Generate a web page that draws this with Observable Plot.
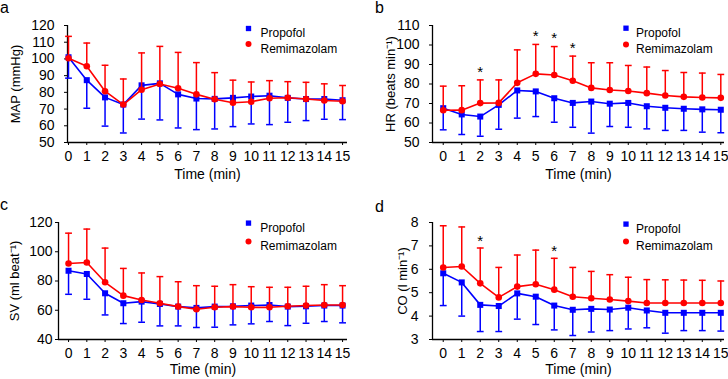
<!DOCTYPE html>
<html>
<head>
<meta charset="utf-8">
<script src="https://cdn.jsdelivr.net/npm/d3@7"></script>
<script src="https://cdn.jsdelivr.net/npm/@observablehq/plot@0.6"></script>
<style>
  html, body { margin: 0; padding: 0; background: #fff; }
  #fig { position: relative; width: 728px; height: 379px; overflow: hidden;
         font-family: "Liberation Sans", Arial, sans-serif; color: #000; }
  .panel { position: absolute; width: 364px; height: 190px; }
  .panel svg { overflow: visible; }
  .letter { position: absolute; font-size: 16px; line-height: 16px; }
</style>
</head>
<body>
<div id="fig"></div>
<script>
// Minutes after induction
const minutes = [0, 1, 2, 3, 4, 5, 6, 7, 8, 9, 10, 11, 12, 13, 14, 15];
const groups = ["Propofol", "Remimazolam"];

// Mean arterial pressure (mmHg): mean and mean − SD (propofol), mean and mean + SD (remimazolam)
const mapPropofol      = [101, 87.3, 77, 72.7, 84.2, 85.4, 78.8, 76.3, 76.1, 76.7, 77.5, 78, 76.7, 76, 76, 75.3];
const mapPropofolLow   = [88.5, 70.5, 59.8, 55.7, 64, 63.5, 58.7, 57.7, 58.1, 59.5, 61.1, 60.7, 62.1, 63.1, 63.9, 63.7];
const mapRemimazolam   = [100.4, 95.6, 80.7, 72.7, 81.6, 85, 82.5, 78.8, 75.9, 73.8, 74.4, 76.5, 76.8, 76, 75.1, 74.7];
const mapRemimazolamHi = [113.5, 109.5, 96.2, 88, 103.6, 107.5, 103.9, 97.8, 91.8, 87.3, 86.2, 87, 86.4, 86, 85.1, 84.1];

// Heart rate (beats/min)
const hrPropofol      = [67.6, 64.4, 63.3, 69.3, 76.7, 76.2, 72.7, 70.3, 71, 69.9, 70.3, 68.6, 67.8, 67.3, 67, 66.8];
const hrPropofolLow   = [56.5, 54.1, 53.2, 56.8, 62.5, 63.3, 60.4, 57.8, 54.8, 58.2, 57.8, 57, 56.2, 56.2, 55.3, 55];
const hrRemimazolam   = [66.5, 66.6, 70.2, 70.3, 80.6, 85.2, 84.6, 81.7, 78, 76.9, 76.4, 75.3, 74.1, 73.4, 73.1, 72.9];
const hrRemimazolamHi = [78.9, 79.1, 82.1, 82.1, 97.5, 100.3, 99.2, 94.3, 90.9, 90.9, 89.5, 88.7, 86.9, 85.9, 85.6, 84.9];
const hrStarMinutes   = [2, 5, 6, 7];
const hrStarLevels    = [88, 106.4, 105.4, 100.6];

// Stroke volume (ml/beat)
const svPropofol      = [87, 84.8, 71.6, 64.8, 65.9, 64.3, 62.5, 61.6, 62.5, 62.7, 63.2, 63.6, 62.5, 62.7, 63.2, 63.2];
const svPropofolLow   = [70.9, 67.5, 56.8, 50.9, 51.8, 49.3, 49.3, 48.2, 48.4, 50, 50.7, 52.3, 49.5, 51.1, 52.3, 51.4];
const svRemimazolam   = [92, 92.7, 79.1, 70, 67, 64.8, 62.5, 60.7, 62, 62.5, 62, 62, 62.7, 63.2, 63.6, 63.6];
const svRemimazolamHi = [112.7, 115.5, 102.5, 88.6, 85.5, 83, 79.5, 76.8, 76.4, 77.5, 76.1, 75.7, 75.7, 76.4, 77.5, 76.8];

// Cardiac output (l/min)
const coPropofol      = [5.83, 5.44, 4.48, 4.43, 4.97, 4.83, 4.45, 4.27, 4.31, 4.28, 4.36, 4.24, 4.14, 4.14, 4.14, 4.14];
const coPropofolLow   = [4.45, 4.0, 3.34, 3.34, 3.87, 3.64, 3.41, 3.17, 3.32, 3.38, 3.45, 3.5, 3.27, 3.38, 3.38, 3.36];
const coRemimazolam   = [6.08, 6.12, 5.4, 4.8, 5.26, 5.36, 5.13, 4.83, 4.76, 4.71, 4.64, 4.56, 4.56, 4.56, 4.56, 4.56];
const coRemimazolamHi = [7.86, 7.81, 6.91, 6.08, 6.61, 6.82, 6.47, 6.08, 5.91, 5.77, 5.66, 5.56, 5.55, 5.54, 5.53, 5.5];
const coStarMinutes   = [2, 6];
const coStarLevels    = [7.39, 6.93];

const BLUE = "#0000ff";
const RED = "#ff0000";
const FONT = "'Liberation Sans', Arial, sans-serif";

// Horizontal cap drawn at the end of each SD whisker
const capSymbol = {
  draw(context, size) {
    const w = Math.sqrt(size / Math.PI);
    context.moveTo(-w, 0);
    context.lineTo(w, 0);
  }
};

function drawPanel(cfg) {
  const rows = minutes.map((t, i) => ({
    t,
    p: cfg.prop[i], pLo: cfg.propLo[i],
    r: cfg.remi[i], rHi: cfg.remiHi[i]
  }));
  const stars = (cfg.starMinutes || []).map((t, i) => ({t, y: cfg.starLevels[i]}));
  const lg = cfg.legend;

  const chart = Plot.plot({
    width: 364,
    height: 190,
    marginLeft: cfg.marginLeft,
    marginRight: cfg.marginRight,
    marginTop: cfg.marginTop,
    marginBottom: cfg.marginBottom,
    style: {fontFamily: FONT, fontSize: "14px", color: "#000", background: "transparent"},
    x: {domain: cfg.xDomain},
    y: {domain: cfg.yDomain},
    marks: [
      // tick marks and tick labels
      Plot.axisY({ticks: cfg.yTicks, tickSize: 3, tickPadding: cfg.yTickPadding, tickFormat: d => String(d),
                  label: null, fontSize: 14}),
      Plot.axisX({ticks: minutes, tickSize: 3, tickPadding: 5.5, tickFormat: d => String(d),
                  label: null, fontSize: 14}),
      // axis titles
      Plot.text([cfg.yLabel], {frameAnchor: "left", rotate: -90, lineAnchor: "top", textAnchor: "middle",
                               dx: -cfg.yLabelOffset, text: d => d, fontSize: 13, fill: "#000"}),
      Plot.text(["Time (min)"], {frameAnchor: "bottom", lineAnchor: "bottom", textAnchor: "middle",
                                 dy: cfg.xLabelOffset, text: d => d, fontSize: 14, fill: "#000"}),
      // axis lines
      Plot.ruleX([cfg.xDomain[0]], {stroke: "#000", strokeWidth: 1.3}),
      Plot.ruleY([cfg.yDomain[0]], {stroke: "#000", strokeWidth: 1.3}),

      // Propofol: mean − SD whiskers, line, squares
      Plot.ruleX(rows, {x: "t", y1: "p", y2: "pLo", stroke: BLUE, strokeWidth: 1.5}),
      Plot.dot(rows, {x: "t", y: "pLo", symbol: capSymbol, r: 3.4, stroke: BLUE, strokeWidth: 1.5, fill: "none"}),
      Plot.line(rows, {x: "t", y: "p", stroke: BLUE, strokeWidth: 1.6}),
      Plot.dot(rows, {x: "t", y: "p", symbol: "square", r: 3.4, fill: BLUE, stroke: "none"}),

      // Remimazolam: mean + SD whiskers, line, circles
      Plot.ruleX(rows, {x: "t", y1: "r", y2: "rHi", stroke: RED, strokeWidth: 1.5}),
      Plot.dot(rows, {x: "t", y: "rHi", symbol: capSymbol, r: 3.4, stroke: RED, strokeWidth: 1.5, fill: "none"}),
      Plot.line(rows, {x: "t", y: "r", stroke: RED, strokeWidth: 1.6}),
      Plot.dot(rows, {x: "t", y: "r", symbol: "circle", r: 3.3, fill: RED, stroke: "none"}),

      // Significance markers
      Plot.text(stars, {x: "t", y: "y", text: () => "*", fontSize: 15, dy: 4, fill: "#000"}),

      // Legend
      Plot.dot([groups[0]], {frameAnchor: "top-left", dx: lg.dx, dy: lg.dy1, symbol: "square", r: 3, fill: BLUE}),
      Plot.dot([groups[1]], {frameAnchor: "top-left", dx: lg.dx, dy: lg.dy2, symbol: "circle", r: 3, fill: RED}),
      Plot.text([groups[0]], {frameAnchor: "top-left", dx: lg.tx, dy: lg.dy1, text: d => d, textAnchor: "start", fontSize: 12, fill: "#000"}),
      Plot.text([groups[1]], {frameAnchor: "top-left", dx: lg.tx, dy: lg.dy2, text: d => d, textAnchor: "start", fontSize: 12, fill: "#000"})
    ]
  });

  const div = document.createElement("div");
  div.className = "panel";
  div.style.left = cfg.left + "px";
  div.style.top = cfg.top + "px";
  div.appendChild(chart);
  const letter = document.createElement("div");
  letter.className = "letter";
  letter.textContent = cfg.letter;
  letter.style.left = cfg.letterLeft + "px";
  letter.style.top = cfg.letterTop + "px";
  div.appendChild(letter);
  document.getElementById("fig").appendChild(div);
}

drawPanel({
  letter: "a", left: 0, top: 0, letterLeft: 0, letterTop: 0,
  prop: mapPropofol, propLo: mapPropofolLow, remi: mapRemimazolam, remiHi: mapRemimazolamHi,
  yLabel: "MAP (mmHg)", yDomain: [50, 120], yTicks: [50, 60, 70, 80, 90, 100, 110, 120],
  xDomain: [-0.055, 15.27],
  marginLeft: 67, marginRight: 17, marginTop: 25, marginBottom: 48,
  yTickPadding: 10, yLabelOffset: 57, xLabelOffset: 36.5,
  legend: {dx: 181, tx: 193, dy1: 3, dy2: 18.5}
});

drawPanel({
  letter: "b", left: 364, top: 0, letterLeft: 11, letterTop: 0,
  prop: hrPropofol, propLo: hrPropofolLow, remi: hrRemimazolam, remiHi: hrRemimazolamHi,
  starMinutes: hrStarMinutes, starLevels: hrStarLevels,
  yLabel: "HR (beats min⁻¹)", yDomain: [50, 110], yTicks: [50, 60, 70, 80, 90, 100, 110],
  xDomain: [-0.58, 15.2],
  marginLeft: 68, marginRight: 4, marginTop: 25, marginBottom: 48,
  yTickPadding: 10, yLabelOffset: 47, xLabelOffset: 36.5,
  legend: {dx: 193.5, tx: 203.5, dy1: 2.7, dy2: 19}
});

drawPanel({
  letter: "c", left: 0, top: 189, letterLeft: 0, letterTop: 8,
  prop: svPropofol, propLo: svPropofolLow, remi: svRemimazolam, remiHi: svRemimazolamHi,
  yLabel: "SV (ml beat⁻¹)", yDomain: [40, 120], yTicks: [40, 60, 80, 100, 120],
  xDomain: [-0.55, 15.27],
  marginLeft: 58, marginRight: 17, marginTop: 33, marginBottom: 40,
  yTickPadding: 3, yLabelOffset: 49, xLabelOffset: 34.5,
  legend: {dx: 190, tx: 201.7, dy1: 0.6, dy2: 19}
});

drawPanel({
  letter: "d", left: 364, top: 189, letterLeft: 11, letterTop: 10,
  prop: coPropofol, propLo: coPropofolLow, remi: coRemimazolam, remiHi: coRemimazolamHi,
  starMinutes: coStarMinutes, starLevels: coStarLevels,
  yLabel: "CO (l min⁻¹)", yDomain: [3, 8], yTicks: [3, 4, 5, 6, 7, 8],
  xDomain: [-0.58, 15.2],
  marginLeft: 68, marginRight: 4, marginTop: 33, marginBottom: 40,
  yTickPadding: 11, yLabelOffset: 35, xLabelOffset: 34.5,
  legend: {dx: 193.5, tx: 203.5, dy1: 1.6, dy2: 19}
});
</script>
</body>
</html>
